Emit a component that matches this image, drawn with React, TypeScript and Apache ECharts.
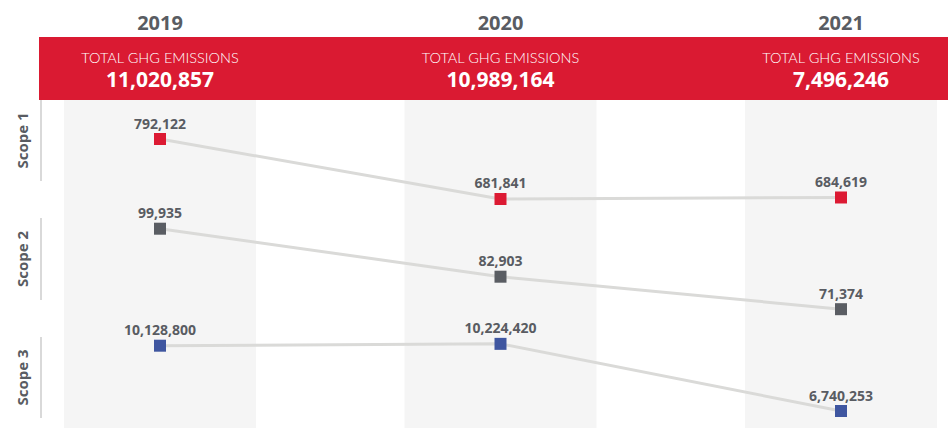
import React, { useEffect, useRef } from "react";
import * as echarts from "echarts";

const YEARS = ["2019", "2020", "2021"];
const TOTALS = [11020857, 10989164, 7496246];
const SCOPE_NAMES = ["Scope 1", "Scope 2", "Scope 3"];
const SCOPE1 = [792122, 681841, 684619];
const SCOPE2 = [99935, 82903, 71374];
const SCOPE3 = [10128800, 10224420, 6740253];
const SCOPE_DATA = [SCOPE1, SCOPE2, SCOPE3];
const SCOPE_COLORS = ["#dc1a33", "#5a5d63", "#3f56a0"];

const W = 948;
const H = 428;
const GRID_LEFT = 160;
const GRID_RIGHT = 107;
const PLOT_W = W - GRID_LEFT - GRID_RIGHT;
const TEXT = "#595c62";
const FONT = "'Open Sans', sans-serif";

// per-scope panels: top, height, y-range
const PANELS = [
  { top: 110, height: 110, min: 643242, max: 845425, segTop: 100, segBottom: 181 },
  { top: 215, height: 105, min: 67540, max: 104796, segTop: 218, segBottom: 300 },
  { top: 330, height: 95, min: 6013765, max: 10943500, segTop: 337, segBottom: 418 },
];

const fmt = (v: number) => v.toLocaleString("en-US");
const colX = (i: number) => GRID_LEFT + (i * PLOT_W) / (YEARS.length - 1);

export default function App() {
  const ref = useRef<HTMLDivElement>(null);
  useEffect(() => {
    if (!ref.current) return;
    const chart = echarts.init(ref.current, undefined, { renderer: "svg" });

    const graphics: any[] = [];
    // grey column backgrounds
    YEARS.forEach((_, i) => {
      graphics.push({
        type: "rect",
        z: -10,
        shape: { x: colX(i) - 96, y: 100, width: 192, height: H - 100 },
        style: { fill: "#f5f5f5" },
      });
    });
    // red banner
    graphics.push({
      type: "rect",
      z: -5,
      shape: { x: 39, y: 37, width: W - 39, height: 63 },
      style: { fill: "#da1a32" },
    });
    YEARS.forEach((y, i) => {
      graphics.push({
        type: "text",
        x: colX(i),
        y: 22,
        style: {
          text: y,
          fill: TEXT,
          font: `bold 20px ${FONT}`,
          textAlign: "center",
          textVerticalAlign: "middle",
        },
      });
      graphics.push({
        type: "text",
        x: colX(i),
        y: 57,
        style: {
          text: "TOTAL GHG EMISSIONS",
          fill: "#ffffff",
          font: `300 14.5px Lato, sans-serif`,
          textAlign: "center",
          textVerticalAlign: "middle",
        },
      });
      graphics.push({
        type: "text",
        x: colX(i),
        y: 79,
        style: {
          text: fmt(TOTALS[i]),
          fill: "#ffffff",
          font: `bold 21px ${FONT}`,
          textAlign: "center",
          textVerticalAlign: "middle",
        },
      });
    });
    // scope side labels + lines
    PANELS.forEach((p, k) => {
      graphics.push({
        type: "line",
        shape: { x1: 41, y1: p.segTop, x2: 41, y2: p.segBottom },
        style: { stroke: "#d9d9d9", lineWidth: 2 },
      });
      graphics.push({
        type: "text",
        x: 22,
        y: (p.segTop + p.segBottom) / 2,
        rotation: Math.PI / 2,
        style: {
          text: SCOPE_NAMES[k],
          fill: TEXT,
          font: `bold 15px ${FONT}`,
          textAlign: "center",
          textVerticalAlign: "middle",
        },
      });
    });

    chart.setOption({
      animation: false,
      grid: PANELS.map((p) => ({
        left: GRID_LEFT,
        right: GRID_RIGHT,
        top: p.top,
        height: p.height,
      })),
      xAxis: PANELS.map((_, k) => ({
        type: "category",
        gridIndex: k,
        data: YEARS,
        boundaryGap: false,
        show: false,
      })),
      yAxis: PANELS.map((p, k) => ({
        type: "value",
        gridIndex: k,
        min: p.min,
        max: p.max,
        show: false,
        splitLine: { show: false },
      })),
      graphic: graphics,
      series: SCOPE_DATA.map((d, k) => ({
        type: "line",
        name: SCOPE_NAMES[k],
        xAxisIndex: k,
        yAxisIndex: k,
        data: d,
        symbol: "rect",
        symbolSize: 12,
        lineStyle: { color: "#dadad8", width: 3 },
        itemStyle: { color: SCOPE_COLORS[k] },
        label: {
          show: true,
          position: "top",
          distance: 3,
          formatter: (pr: any) => fmt(pr.value),
          color: TEXT,
          fontFamily: FONT,
          fontWeight: "bold",
          fontSize: 14,
        },
      })),
    });
    return () => chart.dispose();
  }, []);
  return (
    <div
      ref={ref}
      style={{ position: "fixed", left: 0, top: 0, width: W, height: H, background: "#fff" }}
    />
  );
}
